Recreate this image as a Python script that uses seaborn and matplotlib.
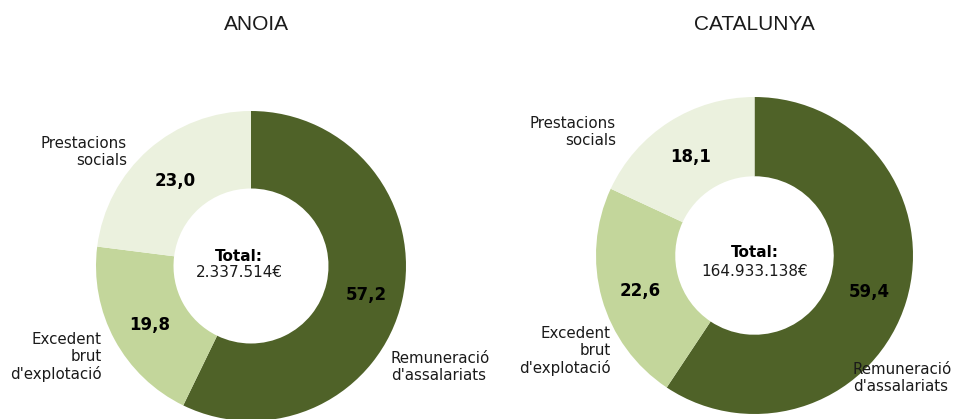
import matplotlib
matplotlib.use('Agg')
import matplotlib.pyplot as plt
import seaborn as sns

sns.set_theme(style='white')
plt.rcParams['font.family'] = ['DejaVu Sans']

# data
regions = ['ANOIA', 'CATALUNYA']
categories = ["Remuneració\nd'assalariats", "Excedent\nbrut\nd'explotació", "Prestacions\nsocials"]
anoia_values = [57.2, 19.8, 23.0]
catalunya_values = [59.4, 22.6, 18.1]
totals = ['2.337.514€', '164.933.138€']

colors = sns.color_palette(['#4F6228', '#C3D69B', '#EBF1DE'])

W, H = 954, 419
fig = plt.figure(figsize=(W / 100, H / 100), dpi=100)


def px(x, y):
    return x / W, 1 - y / H


# donut layout in pixels: centre x, centre y, radius
layouts = [
    dict(cx=251, cy=266, r=155, title_x=256,
         lab_pos=[(391, 367, 'left'), (102, 357, 'right'), (127, 152, 'right')],
         val_pos=[(366, 295), (150, 325), (175, 181)],
         tot_x=239, tot_y=(256, 272)),
    dict(cx=754.5, cy=255.5, r=158.5, title_x=754,
         lab_pos=[(853, 378, 'left'), (611, 351, 'right'), (616, 132, 'right')],
         val_pos=[(869, 292), (640, 291), (691, 157)],
         tot_x=755, tot_y=(252, 271)),
]

for region, values, total, lay in zip(regions, [anoia_values, catalunya_values], totals, layouts):
    left, bottom = px(lay['cx'] - lay['r'], lay['cy'] + lay['r'])
    ax = fig.add_axes([left, bottom, 2 * lay['r'] / W, 2 * lay['r'] / H])
    wedges, _ = ax.pie(values, startangle=90, counterclock=False, colors=colors,
                       radius=1, wedgeprops=dict(width=0.5, edgecolor='none'))
    for w in wedges:
        w.set_clip_on(False)
    ax.set_xlim(-1, 1)
    ax.set_ylim(-1, 1)
    ax.axis('off')

    fig.text(*px(lay['title_x'], 25), region, ha='center', va='center',
             fontsize=15, family='Liberation Sans', color='#1a1a1a')

    for cat, (x, y, ha) in zip(categories, lay['lab_pos']):
        fig.text(*px(x, y), cat, ha=ha, va='center', fontsize=10.8,
                 multialignment=ha, linespacing=1.15, color='#1a1a1a')
    for v, (x, y) in zip(values, lay['val_pos']):
        fig.text(*px(x, y), f'{v:.1f}'.replace('.', ','), ha='center', va='center',
                 fontsize=12, fontweight='bold', color='black')

    fig.text(*px(lay['tot_x'], lay['tot_y'][0]), 'Total:', ha='center', va='center',
             fontsize=11, fontweight='bold', color='black')
    fig.text(*px(lay['tot_x'], lay['tot_y'][1]), total, ha='center', va='center',
             fontsize=11, color='#1a1a1a')

fig.savefig('out.png', dpi=100)
